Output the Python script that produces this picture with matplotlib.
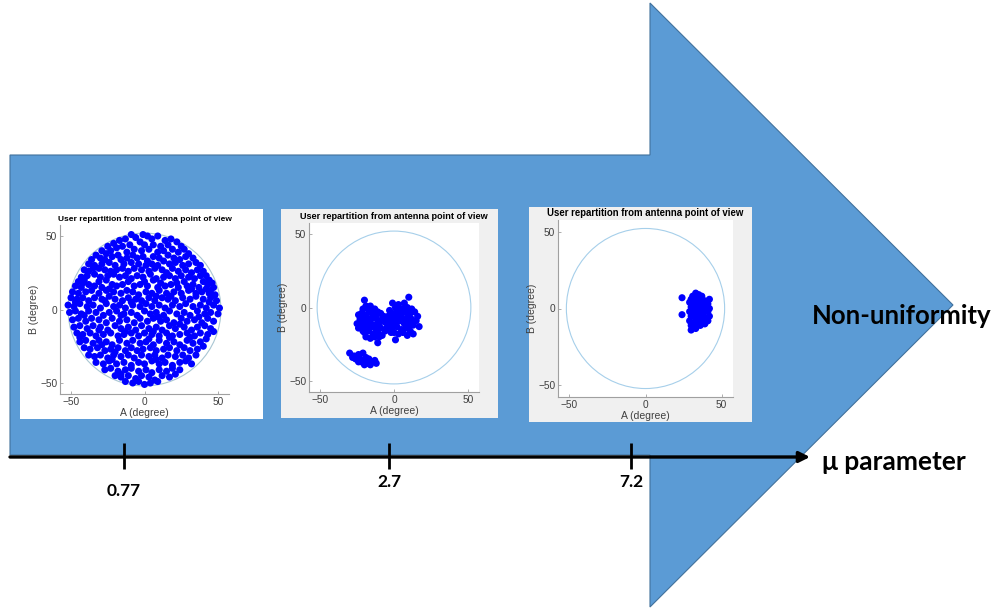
import matplotlib
matplotlib.use("Agg")
import matplotlib.pyplot as plt
from matplotlib.patches import Polygon, Rectangle, Circle

# ---------------- data ----------------
panel_title = "User repartition from antenna point of view"
x_label = "A (degree)"
y_label = "B (degree)"
tick_values = [-50, 0, 50]
circle_radius = 52
mu_labels = ["0.77", "2.7", "7.2"]
axis_label = "\u03bc parameter"
arrow_label = "Non-uniformity"

uniform_points = [
    (-9,51),(-6,49),(-1,51),(2,50),(5,48),(9,50),(14,47),(18,48),(22,46),(-13,48),(-17,47),(-21,45),(-25,43),
    (-3,46),(0,44),(6,44),(11,43),(16,44),(25,43),(27,41),(-29,40),(-23,40),(-19,42),(-15,43),(-10,44),(-7,41),
    (-2,40),(3,41),(9,39),(13,40),(19,41),(23,39),(30,38),(-12,39),(-26,38),
    (-33,37),(-30,35),(-36,34),(-27,34),(-22,36),(-18,37),(-16,34),(-12,35),(-8,37),(-5,35),(-1,36),(2,33),(6,36),
    (10,35),(13,33),(16,37),(20,35),(24,34),(28,36),(33,35),(35,32),(-38,31),(-34,30),(-29,31),(-24,32),(-20,30),
    (-14,31),(-9,32),(-4,31),(1,30),(5,31),(9,30),(17,31),(21,32),(26,30),(30,31),(38,30),(-31,28),
    (-41,27),(-38,26),(-35,28),(-27,27),(-23,26),(-19,27),(-15,28),(-11,26),(-7,28),(-2,27),(3,26),(7,28),(12,27),
    (15,25),(19,28),(23,26),(28,27),(32,25),(36,27),(40,26),(42,23),(-43,22),(-39,23),(-34,24),(-30,22),(-25,23),
    (-21,24),(-17,22),(-13,23),(-9,21),(-5,23),(-1,22),(4,24),(8,21),(13,22),(17,23),(21,21),(25,23),(30,22),(34,21),
    (38,23),(44,20),(46,18),(-45,19),(-41,20),(-31,19),(-26,20),(-11,19),(0,19),(6,20),(11,18),(27,19),(40,19),(43,17),
    (-47,16),(-43,15),(-38,17),(-34,16),(-29,15),(-22,17),(-19,16),(-15,17),(-7,16),(-3,17),(2,16),(9,15),(14,16),
    (18,17),(23,15),(29,16),(33,17),(37,15),(42,14),(47,15),(-49,12),(-45,11),(-40,12),(-36,13),(-31,11),(-26,13),
    (-21,12),(-16,11),(-12,13),(-8,12),(-4,10),(1,12),(5,11),(10,13),(15,11),(20,12),(25,11),(30,13),(35,11),(39,12),
    (44,11),(48,10),(-42,18),(-24,14),(22,18),(32,14),(45,13),
    (-50,8),(-46,7),(-42,8),(-38,6),(-34,8),(-29,7),(-24,9),(-20,7),(-15,6),(-11,8),(-6,7),(-2,6),(3,8),(7,6),(12,8),
    (16,7),(21,6),(26,8),(31,7),(35,9),(40,7),(45,8),(49,6),(-52,3),(-48,2),(-44,4),(-39,2),(-35,3),(-30,1),(-26,4),
    (-21,2),(-17,3),(-13,1),(-8,3),(-3,2),(1,4),(5,2),(10,3),(14,1),(19,3),(24,2),(28,4),(33,2),(38,3),(42,1),(47,3),
    (51,1),(-27,6),(8,9),(18,9),(-9,5),(44,5),(-47,5),
    (-51,-2),(-47,-1),(-43,-3),(-38,-1),(-33,-2),(-28,-4),(-24,-2),(-19,-1),(-14,-3),(-9,-2),(-5,-4),(0,-1),(4,-3),
    (8,-2),(13,-4),(17,-1),(22,-3),(27,-2),(31,-4),(36,-1),(41,-3),(45,-2),(50,-3),(-49,-7),(-45,-6),(-40,-8),(-36,-6),
    (-31,-7),(-26,-9),(-22,-6),(-17,-8),(-12,-7),(-7,-9),(-3,-6),(2,-8),(6,-6),(11,-8),(15,-7),(20,-9),(25,-6),(29,-8),
    (34,-7),(39,-9),(43,-6),(47,-8),(-16,-4),(9,-5),(37,-5),(-41,-4),(24,-10),
    (-48,-12),(-44,-11),(-39,-13),(-35,-11),(-30,-12),(-25,-14),(-20,-11),(-16,-13),(-11,-12),(-6,-14),(-2,-11),
    (3,-13),(8,-12),(12,-14),(17,-11),(21,-13),(27,-12),(32,-14),(36,-12),(41,-11),(45,-13),(-46,-16),(-42,-17),
    (-37,-16),(-33,-18),(-28,-17),(-23,-16),(-18,-18),(-14,-17),(-9,-16),(-4,-18),(0,-16),(5,-17),(10,-18),(15,-16),
    (19,-18),(24,-17),(29,-16),(34,-18),(38,-16),(43,-17),(47,-15),(-31,-14),(-13,-15),(6,-15),(31,-19),(-44,-19),
    (-44,-22),(-40,-21),(-35,-23),(-31,-21),(-26,-22),(-22,-24),(-17,-21),(-12,-23),(-8,-21),(-3,-23),(1,-22),(6,-24),
    (10,-21),(15,-23),(20,-22),(24,-24),(29,-21),(33,-23),(38,-22),(42,-20),(-41,-26),(-37,-27),(-32,-26),(-27,-28),
    (-23,-27),(-18,-26),(-13,-28),(-9,-26),(-5,-28),(-1,-27),(4,-26),(8,-28),(13,-27),(17,-26),(22,-28),(27,-26),
    (31,-28),(36,-27),(40,-25),(-29,-24),(3,-20),(17,-19),(-20,-29),
    (-38,-31),(-34,-32),(-30,-31),(-25,-33),(-21,-31),(-16,-32),(-11,-31),(-7,-33),(-2,-31),(3,-32),(7,-31),(12,-33),
    (16,-31),(21,-32),(26,-31),(30,-33),(35,-31),(-33,-36),(-28,-37),(-24,-35),(-19,-37),(-14,-36),(-9,-38),(-4,-36),
    (0,-37),(5,-35),(10,-37),(14,-36),(19,-38),(24,-36),(28,-35),(32,-37),(-22,-34),(8,-34),
    (-27,-41),(-23,-40),(-18,-42),(-13,-41),(-9,-40),(-4,-42),(1,-41),(5,-43),(10,-41),(15,-42),(19,-40),(24,-41),
    (-20,-45),(-16,-46),(-11,-45),(-6,-47),(-2,-45),(3,-46),(7,-48),(12,-45),(17,-46),(-13,-49),(-8,-50),(-4,-49),
    (0,-51),(4,-50),(9,-49),(-16,-44),(21,-44),
]

medium_points = [
    # left cluster
    (-20,5),(-19,1),(-16,1),(-21,-1),(-17,-2),(-13,-1),(-11,-3),(-24,-5),(-22,-4),(-19,-5),(-15,-4),(-12,-6),(-9,-4),
    (-7,-6),(-23,-8),(-20,-7),(-17,-8),(-14,-7),(-11,-9),(-8,-8),(-25,-11),(-22,-10),(-19,-11),(-16,-10),(-13,-12),
    (-10,-11),(-6,-10),(-24,-14),(-21,-13),(-18,-14),(-15,-13),(-12,-15),(-9,-14),(-20,-17),(-17,-16),(-14,-18),
    (-11,-17),(-8,-19),(-19,-20),(-16,-21),(-13,-20),(-11,-24),(-18,-9),(-14,-5),(-21,-16),(-10,-20),(-6,-16),
    (-4,-12),(-3,-8),(-5,-14),
    # right cluster
    (10,7),(-1,3),(3,2),(7,3),(1,0),(5,-1),(9,0),(12,-1),(-3,-2),(-1,-4),(2,-3),(5,-5),(8,-3),(11,-4),(14,-3),(16,-6),
    (-4,-6),(0,-7),(3,-6),(6,-8),(9,-7),(12,-8),(15,-9),(-2,-10),(1,-11),(4,-9),(7,-11),(10,-10),(13,-12),(17,-13),
    (-4,-13),(-1,-14),(2,-13),(5,-15),(8,-14),(11,-16),(0,-17),(3,-18),(6,-17),(9,-19),(13,-18),(1,-22),(-2,-17),
    (4,-4),(7,-1),(0,-9),(-2,-6),(10,-13),
    # bottom cluster
    (-30,-31),(-27,-33),(-24,-32),(-21,-31),(-19,-34),(-23,-35),(-26,-35),(-28,-34),(-20,-36),(-17,-35),(-15,-37),
    (-12,-38),(-18,-38),(-22,-37),(-24,-37),(-16,-39),(-20,-39),(-13,-36),
]

high_points = [
    (24,7),(24,-4),(33,10),(35,9),(31,8),(37,8),(30,6),(33,6),(36,6),(39,5),(42,6),(29,4),(32,3),(35,4),(38,3),(41,3),
    (30,1),(33,0),(36,1),(39,0),(42,0),(29,-2),(32,-3),(35,-2),(38,-3),(41,-2),(30,-5),(33,-6),(36,-5),(39,-6),(42,-5),
    (29,-8),(32,-9),(35,-8),(38,-9),(41,-8),(30,-11),(33,-12),(36,-11),(39,-10),(30,-14),(33,-13),(34,-2),(37,-1),
    (34,3),(31,-1),(37,-7),(34,-9),
]

# ---------------- layout / style ----------------
W, H = 1008, 608
fig = plt.figure(figsize=(W / 100, H / 100), dpi=100)
fig.patch.set_facecolor("white")

bg = fig.add_axes([0, 0, 1, 1])
bg.set_xlim(0, W)
bg.set_ylim(H, 0)
bg.axis("off")

arrow_fill = "#5B9BD5"
arrow_edge = "#41719C"
arrow_shape = [(10, 155), (650, 155), (650, 3), (953, 305), (650, 607), (650, 455), (10, 455)]
bg.add_patch(Polygon(arrow_shape, closed=True, facecolor=arrow_fill, edgecolor=arrow_edge, lw=0.8, zorder=1))

big_font = ["Lato", "DejaVu Sans"]

# panel boxes: (x0, y0, x1, y1, background)
boxes = [(20, 209, 263, 419, "white"), (281, 209, 498, 418, "#F0F0F0"), (529, 207, 752, 422, "#F0F0F0")]
for x0, y0, x1, y1, fc in boxes:
    bg.add_patch(Rectangle((x0, y0), x1 - x0, y1 - y0, facecolor=fc, edgecolor="none", zorder=2))

# mu axis
axis_y = 457
bg.annotate("", xy=(810, axis_y), xytext=(10, axis_y),
            arrowprops=dict(arrowstyle="-|>", lw=2.4, color="black", mutation_scale=16, shrinkA=0, shrinkB=0),
            zorder=5)
mu_tick_x = [124, 389, 631]
mu_label_y = [491, 482, 482]
for x, lab, ly in zip(mu_tick_x, mu_labels, mu_label_y):
    bg.plot([x, x], [443, 469], color="black", lw=2.0, zorder=5, solid_capstyle="butt")
    bg.text(x, ly, lab, ha="center", va="center", fontsize=12.5, fontweight="bold", family=big_font, zorder=6)

bg.text(822, 462, axis_label, ha="left", va="center", fontsize=19, fontweight="bold", family=big_font, zorder=6)
bg.text(812, 316, arrow_label, ha="left", va="center", fontsize=18.5, fontweight="bold", family=big_font, zorder=6)

# scatter panels: axes rectangle in pixels (x0, y0, x1, y1), title size
panels = [
    ((60, 225, 229, 394), uniform_points, 6.0, "#A9C6D3"),
    ((309, 223, 479, 392), medium_points, 6.6, "#A6CFEA"),
    ((558, 220, 733, 397), high_points, 6.9, "#A6CFEA"),
]
panel_font = ["Liberation Sans", "DejaVu Sans"]
for (x0, y0, x1, y1), pts, tsize, ccol in panels:
    ax = fig.add_axes([x0 / W, 1 - y1 / H, (x1 - x0) / W, (y1 - y0) / H])
    ax.set_facecolor("white")
    ax.set_xlim(-57.5, 57.5)
    ax.set_ylim(-57.5, 57.5)
    ax.add_patch(Circle((0, 0), circle_radius, fill=False, edgecolor=ccol, lw=0.8, zorder=2))
    a_vals = [p[0] for p in pts]
    b_vals = [p[1] for p in pts]
    ax.scatter(a_vals, b_vals, s=26, color="#0000FF", edgecolors="none", zorder=3)
    for side in ["top", "right"]:
        ax.spines[side].set_visible(False)
    for side in ["left", "bottom"]:
        ax.spines[side].set_color("#A0A0A0")
        ax.spines[side].set_linewidth(0.8)
    ax.set_xticks(tick_values)
    ax.set_yticks(tick_values)
    ax.tick_params(direction="in", length=2, width=0.6, color="#A0A0A0", labelsize=7.3,
                   labelcolor="#404040", pad=2)
    for lab in ax.get_xticklabels() + ax.get_yticklabels():
        lab.set_family(panel_font)
    ax.set_xlabel(x_label, fontsize=7.5, color="#404040", labelpad=1, family=panel_font)
    ax.set_ylabel(y_label, fontsize=7.5, color="#404040", labelpad=1, family=panel_font)
    ax.set_title(panel_title, fontsize=tsize, fontweight="bold", pad=3, family=panel_font)

fig.savefig("out.png", dpi=100, facecolor="white")
